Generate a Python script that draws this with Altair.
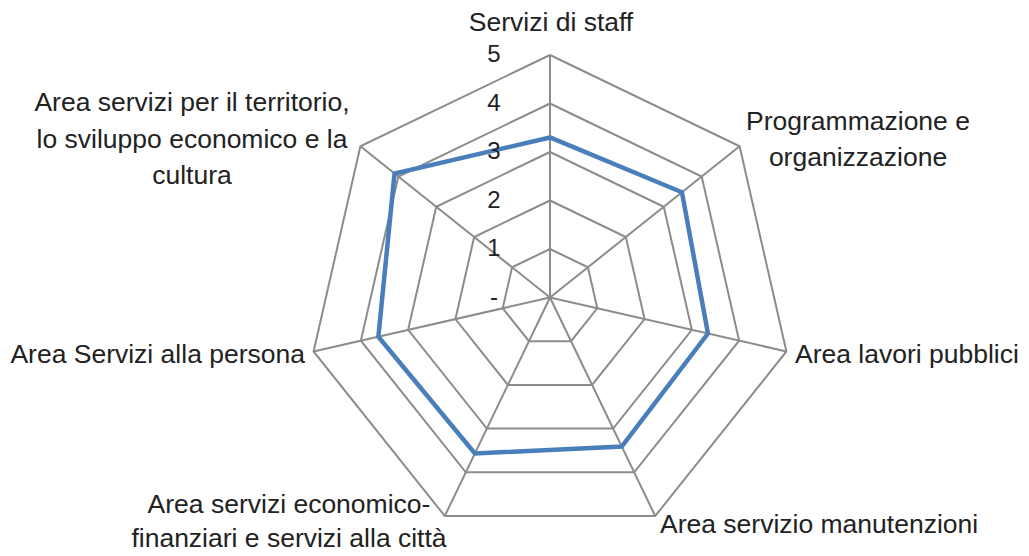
import altair as alt
import pandas as pd

categories = [
    "Servizi di staff",
    "Programmazione e\norganizzazione",
    "Area lavori pubblici",
    "Area servizio manutenzioni",
    "Area servizi economico-\nfinanziari e servizi alla città",
    "Area Servizi alla persona",
    "Area servizi per il territorio,\nlo sviluppo economico e la\ncultura",
]
values = [3.3, 3.48, 3.34, 3.41, 3.57, 3.63, 4.1]
levels = [1, 2, 3, 4, 5]
tick_values = [0, 1, 2, 3, 4, 5]
tick_labels = ["-", "1", "2", "3", "4", "5"]

N = len(categories)

# layout (pixels)
W, H = 1010, 540
CX, CY = 550 - 8, 297.5 - 8
U = 48.5
xdom = [-CX / U, (W - CX) / U]
ydom = [-(H - CY) / U, CY / U]
GRID = "#8c8c8c"
BLUE = "#4a7ebb"
FONT = "Liberation Sans"

series = pd.DataFrame({"idx": list(range(N)) + [0], "val": values + [values[0]]})
grid = pd.DataFrame(
    [{"lev": lv, "idx": i % N, "ord": i} for lv in levels for i in range(N + 1)]
)
spokes = pd.DataFrame({"idx": list(range(N)), "r": [max(levels)] * N})
ticks = pd.DataFrame({"y": tick_values, "lab": tick_labels})

xs = alt.Scale(domain=xdom, nice=False, zero=False)
ys = alt.Scale(domain=ydom, nice=False, zero=False)

ang = "2*PI*datum.idx/%d" % N

grid_layer = (
    alt.Chart(grid)
    .transform_calculate(
        x="datum.lev*sin(%s)" % ang, y="datum.lev*cos(%s)" % ang
    )
    .mark_line(color=GRID, strokeWidth=2)
    .encode(
        x=alt.X("x:Q", scale=xs, axis=None),
        y=alt.Y("y:Q", scale=ys, axis=None),
        detail="lev:N",
        order="ord:Q",
    )
)

spoke_layer = (
    alt.Chart(spokes)
    .transform_calculate(
        x="0", y="0", x2="datum.r*sin(%s)" % ang, y2="datum.r*cos(%s)" % ang
    )
    .mark_rule(color=GRID, strokeWidth=2)
    .encode(
        x=alt.X("x:Q", scale=xs, axis=None),
        y=alt.Y("y:Q", scale=ys, axis=None),
        x2="x2:Q",
        y2="y2:Q",
    )
)

series_layer = (
    alt.Chart(series)
    .transform_window(ord="row_number()")
    .transform_calculate(
        x="datum.val*sin(%s)" % ang, y="datum.val*cos(%s)" % ang
    )
    .mark_line(color=BLUE, strokeWidth=4.5, strokeJoin="miter")
    .encode(
        x=alt.X("x:Q", scale=xs, axis=None),
        y=alt.Y("y:Q", scale=ys, axis=None),
        order="ord:Q",
    )
)

tick_layer = (
    alt.Chart(ticks)
    .mark_text(font=FONT, fontSize=24, color="#222222", align="center", baseline="middle")
    .encode(
        x=alt.value(494 - 8),
        y=alt.Y("y:Q", scale=ys, axis=None),
        text="lab:N",
    )
)

# category label anchors (page pixels, first line centre), alignment, line height
label_pos = [
    (551, 23, "center", 35.5),
    (858, 122, "center", 35.5),
    (795, 355, "left", 35.5),
    (660, 525, "left", 35.5),
    (289, 505, "center", 33.5),
    (305, 355, "right", 35.5),
    (192, 103, "center", 36.5),
]

label_layers = []
for cat, (px, py, al, lh) in zip(categories, label_pos):
    label_layers.append(
        alt.Chart(pd.DataFrame({"cat": [cat]}))
        .mark_text(
            font=FONT,
            fontSize=26.5,
            color="#222222",
            align=al,
            baseline="middle",
            lineBreak="\n",
            lineHeight=lh,
        )
        .encode(x=alt.value(px - 8), y=alt.value(py - 8), text="cat:N")
    )

chart = (
    alt.layer(grid_layer, spoke_layer, series_layer, tick_layer, *label_layers)
    .properties(width=W, height=H, padding=0, autosize=alt.AutoSizeParams(type="none"))
    .configure_view(stroke="transparent", strokeWidth=0, strokeOpacity=0)
)

chart.save("out.html", embed_options={"renderer": "svg", "actions": False})
